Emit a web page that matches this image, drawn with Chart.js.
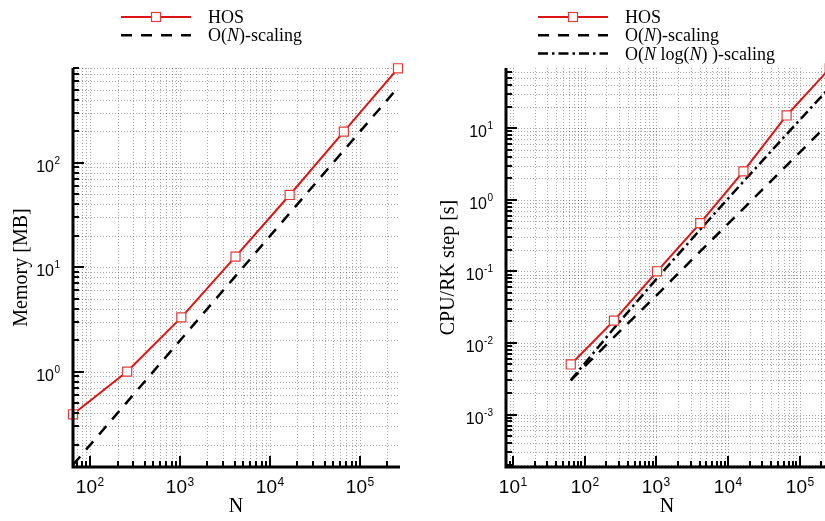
<!DOCTYPE html>
<html>
<head>
<meta charset="utf-8">
<script src="https://cdn.jsdelivr.net/npm/chart.js@4"></script>
<style>
html, body { margin: 0; padding: 0; background: #fff; overflow: hidden; width: 825px; height: 521px; position: relative; }
#leftBox { position: absolute; left: 0; top: 0; width: 412px; height: 521px; }
#rightBox { position: absolute; left: 412px; top: 0; width: 413px; height: 521px; }
#left { width: 412px; height: 521px; }
#right { width: 413px; height: 521px; }
</style>
</head>
<body>
<div id="leftBox"><canvas id="left" width="412" height="521"></canvas></div>
<div id="rightBox"><canvas id="right" width="413" height="521"></canvas></div>
<script>
const N = [64, 256, 1024, 4096, 16384, 65536, 262144];
const memoryHOS = [0.39, 1.0, 3.3, 12.6, 49, 198, 800];
const memoryON = [0.128, 0.512, 2.05, 8.2, 32.8, 131, 524];
const cpuHOS = [0.005, 0.0205, 0.1, 0.47, 2.48, 15, 68];
const cpuON = [0.003, 0.012, 0.047, 0.19, 0.75, 3.0, 12.0];
const cpuONlogN = [0.003, 0.016, 0.080, 0.384, 1.79, 8.2, 36.9];

// axis bounds (right plot is cut off by the page edge)
const leftX = [64, 262144];
const leftY = [0.122, 805];
const rightX = [8, 225000];
const rightY = [1.85e-4, 69];

const RED = '#dc1414';
const SANS = '"Liberation Sans", Arial, sans-serif';
const SERIF = '"Liberation Serif", "Times New Roman", serif';

function pts(xs, ys) {
    return xs.map((x, i) => ({ x: x, y: ys[i] }));
}

function logValues(min, max) {
    const out = [];
    for (let e = Math.floor(Math.log10(min)); e <= Math.ceil(Math.log10(max)); e++) {
        for (let m = 1; m < 10; m++) {
            const v = m * Math.pow(10, e);
            if (v >= min * 0.9999 && v <= max * 1.0001) out.push({ v: v, major: m === 1, e: e });
        }
    }
    return out;
}

// "10" with a raised exponent
function powLabel(ctx, e, x, y, align, big, small, raise) {
    const exp = String(e);
    ctx.textAlign = 'left';
    ctx.textBaseline = 'alphabetic';
    ctx.font = big + 'px ' + SANS;
    const w1 = ctx.measureText('10').width;
    ctx.font = small + 'px ' + SANS;
    const w2 = ctx.measureText(exp).width;
    const total = w1 + w2 + 0.5;
    const x0 = align === 'center' ? x - total / 2 : x - total;
    ctx.font = big + 'px ' + SANS;
    ctx.fillText('10', x0, y);
    ctx.font = small + 'px ' + SANS;
    ctx.fillText(exp, x0 + w1 + 0.5, y - raise);
}

// text made of plain / italic pieces
function mixedText(ctx, parts, x, y, size) {
    ctx.textAlign = 'left';
    ctx.textBaseline = 'alphabetic';
    let cx = x;
    parts.forEach(p => {
        ctx.font = (p[1] ? 'italic ' : '') + size + 'px ' + SERIF;
        ctx.fillText(p[0], cx, y);
        cx += ctx.measureText(p[0]).width;
    });
}

function legendSample(ctx, kind, x1, x2, y) {
    ctx.save();
    ctx.beginPath();
    ctx.moveTo(x1, y);
    ctx.lineTo(x2, y);
    if (kind === 'hos') {
        ctx.strokeStyle = RED;
        ctx.lineWidth = 2;
        ctx.stroke();
        const cx = (x1 + x2) / 2;
        ctx.fillStyle = '#fff';
        ctx.fillRect(cx - 4.5, y - 4.5, 9, 9);
        ctx.strokeStyle = '#e03c3c';
        ctx.lineWidth = 1.2;
        ctx.strokeRect(cx - 4.5, y - 4.5, 9, 9);
    } else {
        ctx.strokeStyle = '#000';
        ctx.lineWidth = 2.5;
        ctx.setLineDash(kind === 'dash' ? [11, 9] : [10, 4, 2.5, 4]);
        ctx.stroke();
    }
    ctx.restore();
}

const paperAxes = {
    id: 'paperAxes',
    beforeDatasetsDraw(chart) {
        const ctx = chart.ctx;
        const a = chart.chartArea;
        const xs = chart.scales.x, ys = chart.scales.y;
        ctx.save();
        ctx.strokeStyle = 'rgba(0,0,0,0.35)';
        ctx.lineWidth = 1;
        ctx.setLineDash([1, 2]);
        logValues(xs.min, xs.max).forEach(t => {
            const px = Math.round(xs.getPixelForValue(t.v)) + 0.5;
            ctx.beginPath(); ctx.moveTo(px, a.top); ctx.lineTo(px, a.bottom); ctx.stroke();
        });
        logValues(ys.min, ys.max).forEach(t => {
            const py = Math.round(ys.getPixelForValue(t.v)) + 0.5;
            ctx.beginPath(); ctx.moveTo(a.left, py); ctx.lineTo(a.right, py); ctx.stroke();
        });
        ctx.restore();
    },
    afterDraw(chart, args, opts) {
        const ctx = chart.ctx;
        const a = chart.chartArea;
        const xs = chart.scales.x, ys = chart.scales.y;
        ctx.save();
        ctx.fillStyle = '#000';
        ctx.strokeStyle = '#000';

        // inward ticks
        ctx.lineWidth = 2;
        logValues(xs.min, xs.max).forEach(t => {
            const px = Math.round(xs.getPixelForValue(t.v));
            const len = t.major ? 11 : 6;
            ctx.beginPath(); ctx.moveTo(px, a.bottom); ctx.lineTo(px, a.bottom - len); ctx.stroke();
            if (t.major) powLabel(ctx, t.e, px, a.bottom + 26, 'center', 19, 12, 7);
        });
        logValues(ys.min, ys.max).forEach(t => {
            const py = Math.round(ys.getPixelForValue(t.v));
            const len = t.major ? 11 : 6;
            ctx.beginPath(); ctx.moveTo(a.left, py); ctx.lineTo(a.left + len, py); ctx.stroke();
            if (t.major) powLabel(ctx, t.e, a.left - 13, py + 9, 'right', 16, 10, 8);
        });

        // axis lines
        ctx.lineWidth = 3;
        ctx.beginPath();
        ctx.moveTo(a.left, a.top);
        ctx.lineTo(a.left, a.bottom);
        ctx.lineTo(a.right + 2, a.bottom);
        ctx.stroke();

        // axis titles
        ctx.font = '20px ' + SERIF;
        ctx.textAlign = 'center';
        ctx.textBaseline = 'middle';
        ctx.fillText('N', opts.xTitleX, a.bottom + 40);
        ctx.save();
        ctx.translate(opts.yTitleX, (a.top + a.bottom) / 2);
        ctx.rotate(-Math.PI / 2);
        ctx.fillText(opts.yTitle, 0, 0);
        ctx.restore();

        // legend
        opts.legend.forEach((item, i) => {
            const y = 17 + i * 18.3;
            legendSample(ctx, item.kind, opts.legendX, opts.legendX + 70, y);
            ctx.fillStyle = '#000';
            mixedText(ctx, item.parts, opts.legendX + 87, y + 6, 18);
        });
        ctx.restore();
    }
};

function hosSet(ys) {
    return {
        data: pts(N, ys),
        showLine: true,
        borderColor: RED,
        borderWidth: 2,
        pointStyle: 'rect',
        pointRadius: 6.4,
        pointBorderColor: '#e03c3c',
        pointBorderWidth: 1.2,
        pointBackgroundColor: '#fff',
        clip: false,
        order: 0
    };
}

function refSet(ys, dash) {
    return {
        data: pts(N, ys),
        showLine: true,
        borderColor: '#000',
        borderWidth: 2.5,
        borderDash: dash,
        pointRadius: 0,
        clip: false,
        order: 1
    };
}

function makeChart(id, datasets, xr, yr, pad, extra) {
    return new Chart(document.getElementById(id), {
        type: 'scatter',
        data: { datasets: datasets },
        options: {
            responsive: false,
            animation: false,
            layout: { padding: pad, autoPadding: false },
            plugins: { legend: { display: false }, tooltip: { enabled: false }, paperAxes: extra },
            scales: {
                x: { type: 'logarithmic', min: xr[0], max: xr[1], display: false },
                y: { type: 'logarithmic', min: yr[0], max: yr[1], display: false }
            }
        },
        plugins: [paperAxes]
    });
}

makeChart('left',
    [hosSet(memoryHOS), refSet(memoryON, [11, 9])],
    leftX, leftY,
    { left: 73, right: 14, top: 68, bottom: 54 },
    {
        yTitle: 'Memory [MB]', yTitleX: 22, xTitleX: 236, legendX: 121,
        legend: [
            { kind: 'hos', parts: [['HOS', false]] },
            { kind: 'dash', parts: [['O(', false], ['N', true], [')-scaling', false]] }
        ]
    });

makeChart('right',
    [hosSet(cpuHOS), refSet(cpuON, [11, 9]), refSet(cpuONlogN, [10, 4, 2.5, 4])],
    rightX, rightY,
    { left: 94, right: 0, top: 68, bottom: 54 },
    {
        yTitle: 'CPU/RK step [s]', yTitleX: 37, xTitleX: 667 - 412, legendX: 126,
        legend: [
            { kind: 'hos', parts: [['HOS', false]] },
            { kind: 'dash', parts: [['O(', false], ['N', true], [')-scaling', false]] },
            { kind: 'dashdot', parts: [['O(', false], ['N', true], [' log(', false], ['N', true], [') )-scaling', false]] }
        ]
    });
</script>
</body>
</html>
